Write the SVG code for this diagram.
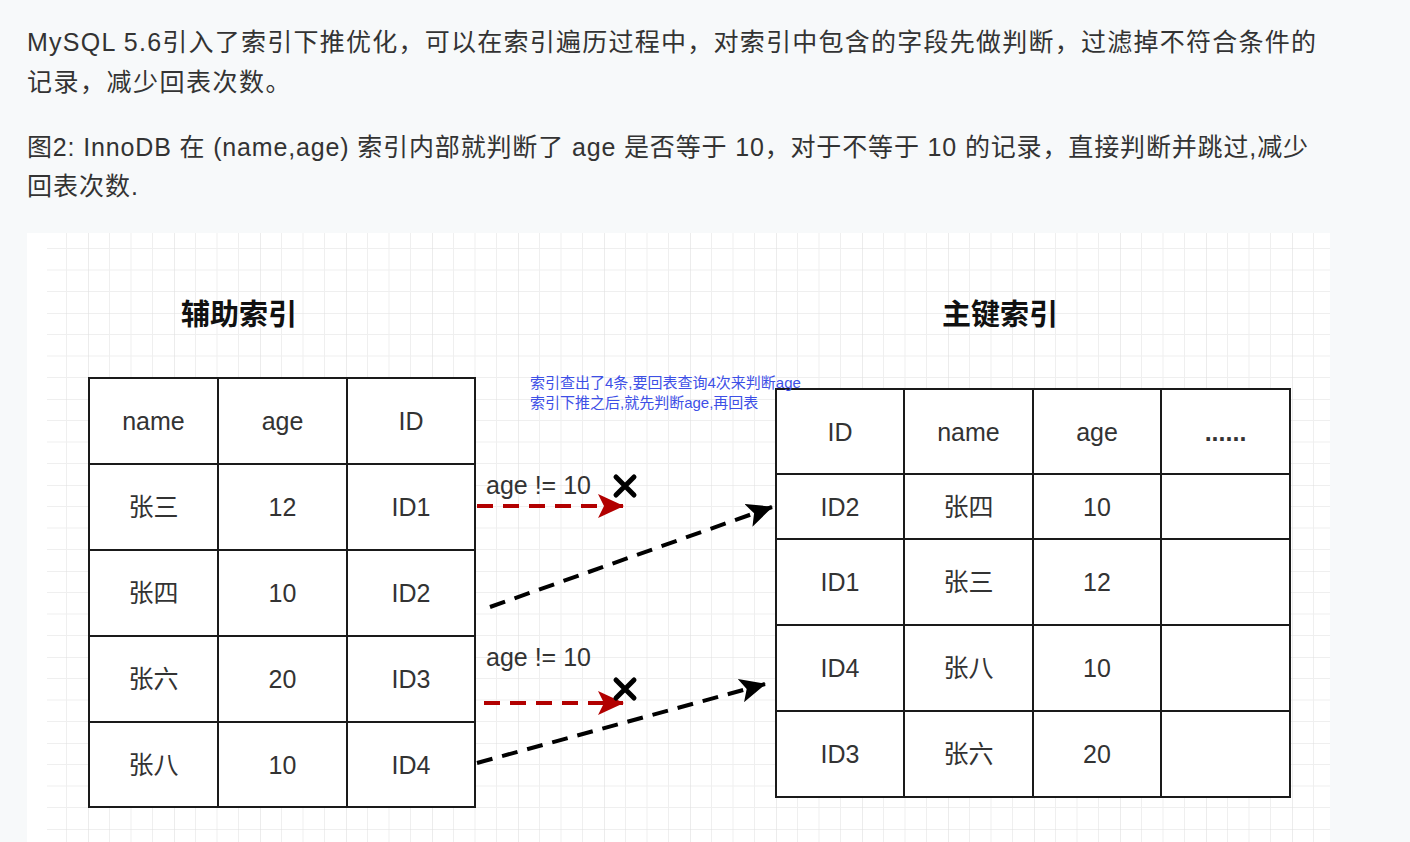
<svg xmlns="http://www.w3.org/2000/svg" width="1410" height="842" viewBox="0 0 1410 842">
<defs>
<pattern id="grid" x="88" y="313" width="86" height="86" patternUnits="userSpaceOnUse">
<path d="M21.5,0V86M43,0V86M64.5,0V86M0,21.5H86M0,43H86M0,64.5H86" stroke="#efefef" stroke-width="1" fill="none"/>
<path d="M0,0V86M0,0H86" stroke="#e0e0e0" stroke-width="1.2" fill="none"/>
</pattern>
<marker id="ahRed" viewBox="0 0 26 24" refX="25" refY="12" markerWidth="26" markerHeight="24" markerUnits="userSpaceOnUse" orient="auto"><path d="M0,0 L26,12 L0,24 L6,12 Z" fill="#b20000"/></marker>
<marker id="ahBlk" viewBox="0 0 26 24" refX="25" refY="12" markerWidth="26" markerHeight="24" markerUnits="userSpaceOnUse" orient="auto"><path d="M0,0 L26,12 L0,24 L6,12 Z" fill="#000"/></marker>
</defs>
<style>
.p{font-family:"Liberation Sans","Noto Sans CJK SC",sans-serif;font-size:25px;fill:#333}
.h{font-family:"Noto Sans CJK SC",sans-serif;font-size:29px;font-weight:bold;fill:#111;text-anchor:middle}
.c{font-family:"Liberation Sans","Noto Sans CJK SC",sans-serif;font-size:25px;fill:#333;text-anchor:middle;dominant-baseline:central}
.cell{fill:none;stroke:#1a1a1a;stroke-width:2}
.note{font-family:"Liberation Sans","Noto Sans CJK SC",sans-serif;font-size:15px;fill:#3d4fe6}
.lbl{font-family:"Liberation Sans","Noto Sans CJK SC",sans-serif;font-size:25px;fill:#333}
.red{fill:none;stroke:#b20000;stroke-width:4;stroke-dasharray:16 10}
.blk{fill:none;stroke:#000;stroke-width:4;stroke-dasharray:16 10}
.x{stroke:#000;stroke-width:5;stroke-linecap:round}
</style>
<rect width="1410" height="842" fill="#f7f9fa"/>
<g id="intro">
<text class="p" x="27" y="51" textLength="1289" lengthAdjust="spacing">MySQL 5.6引入了索引下推优化，可以在索引遍历过程中，对索引中包含的字段先做判断，过滤掉不符合条件的</text>
<text class="p" x="27" y="91" letter-spacing="1.5">记录，减少回表次数。</text>
<text class="p" x="27" y="156" textLength="1281" lengthAdjust="spacing">图2: InnoDB 在 (name,age) 索引内部就判断了 age 是否等于 10，对于不等于 10 的记录，直接判断并跳过,减少</text>
<text class="p" x="27" y="195" letter-spacing="1">回表次数.</text>
</g>
<rect x="27" y="233" width="1303" height="609" fill="#fff"/>
<rect x="47" y="233" width="1283" height="609" fill="url(#grid)"/>
<g id="title-secondary"><text class="h" x="239" y="325">辅助索引</text></g>
<g id="title-primary"><text class="h" x="1000" y="325">主键索引</text></g>
<g id="secondary-index">
<rect x="89" y="378" width="386" height="429" fill="#fff"/>
<path class="cell" d="M89,378H475V807H89Z M218,378V807 M347,378V807 M89,464H475 M89,550H475 M89,636H475 M89,722H475"/>
<text class="c" x="153.5" y="421">name</text><text class="c" x="282.5" y="421">age</text><text class="c" x="411" y="421">ID</text>
<text class="c" x="153.5" y="507">张三</text><text class="c" x="282.5" y="507">12</text><text class="c" x="411" y="507">ID1</text>
<text class="c" x="153.5" y="593">张四</text><text class="c" x="282.5" y="593">10</text><text class="c" x="411" y="593">ID2</text>
<text class="c" x="153.5" y="679">张六</text><text class="c" x="282.5" y="679">20</text><text class="c" x="411" y="679">ID3</text>
<text class="c" x="153.5" y="764.5">张八</text><text class="c" x="282.5" y="764.5">10</text><text class="c" x="411" y="764.5">ID4</text>
</g>
<g id="primary-index">
<rect x="776" y="389" width="514" height="408" fill="#fff"/>
<path class="cell" d="M776,389H1290V797H776Z M904,389V797 M1033,389V797 M1161,389V797 M776,474H1290 M776,539H1290 M776,625H1290 M776,711H1290"/>
<text class="c" x="840" y="432">ID</text><text class="c" x="968.5" y="432">name</text><text class="c" x="1097" y="432">age</text><text class="c" x="1225.5" y="432" font-weight="bold">......</text>
<text class="c" x="840" y="507">ID2</text><text class="c" x="968.5" y="507">张四</text><text class="c" x="1097" y="507">10</text>
<text class="c" x="840" y="582">ID1</text><text class="c" x="968.5" y="582">张三</text><text class="c" x="1097" y="582">12</text>
<text class="c" x="840" y="668">ID4</text><text class="c" x="968.5" y="668">张八</text><text class="c" x="1097" y="668">10</text>
<text class="c" x="840" y="754">ID3</text><text class="c" x="968.5" y="754">张六</text><text class="c" x="1097" y="754">20</text>
</g>
<g id="note">
<text class="note" x="530" y="388">索引查出了4条,要回表查询4次来判断age</text>
<text class="note" x="530" y="408">索引下推之后,就先判断age,再回表</text>
</g>
<g id="connectors">
<path class="red" d="M477,506H623" marker-end="url(#ahRed)"/>
<path class="red" d="M484,703H623" marker-end="url(#ahRed)"/>
<path class="blk" d="M490,607L772,507" marker-end="url(#ahBlk)"/>
<path class="blk" d="M477,763L765,684" marker-end="url(#ahBlk)"/>
<path class="x" d="M616,477L634,495M634,477L616,495"/>
<path class="x" d="M616,680L634,698M634,680L616,698"/>
<text class="lbl" x="486" y="494">age != 10</text>
<text class="lbl" x="486" y="666">age != 10</text>
</g>
</svg>
